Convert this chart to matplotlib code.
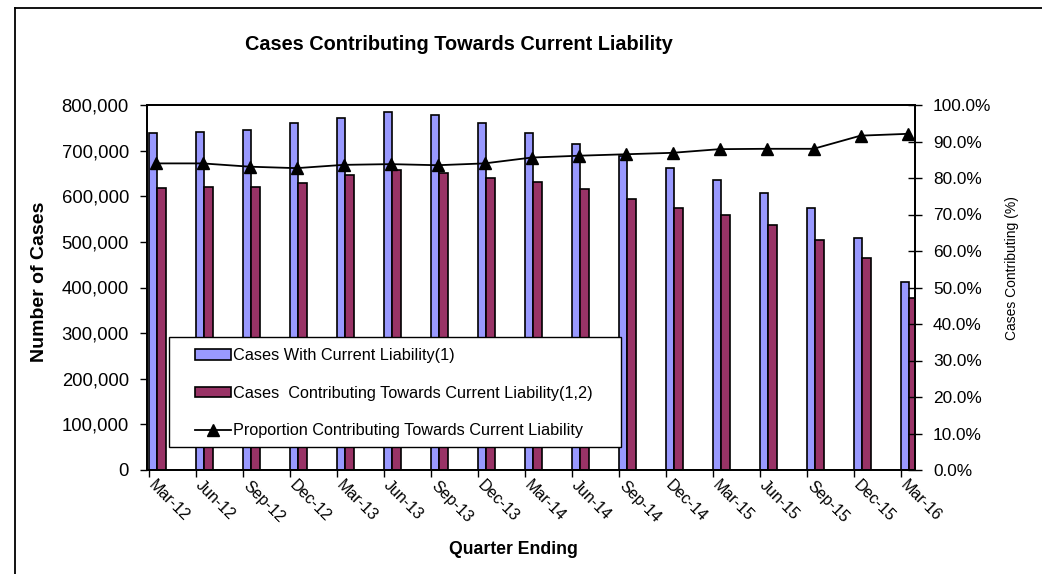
import matplotlib
matplotlib.use("Agg")
import matplotlib.pyplot as plt
from matplotlib.lines import Line2D
from matplotlib.patches import Patch, Rectangle
import matplotlib.transforms as mtransforms
import numpy as np

plt.rcParams['font.family'] = ['Liberation Sans', 'DejaVu Sans']

quarters = ["Mar-12", "Jun-12", "Sep-12", "Dec-12", "Mar-13", "Jun-13", "Sep-13", "Dec-13",
            "Mar-14", "Jun-14", "Sep-14", "Dec-14", "Mar-15", "Jun-15", "Sep-15", "Dec-15", "Mar-16"]
cases_with_liability = [738000, 740000, 746000, 760000, 772000, 784000, 778000, 760000,
                        738000, 714000, 689000, 661000, 635000, 608000, 575000, 508000, 411000]
cases_contributing = [618000, 621000, 621000, 629000, 647000, 657000, 651000, 639000,
                      631000, 615000, 594000, 575000, 558000, 536000, 505000, 465000, 378000]
proportion = [84.0, 84.0, 83.1, 82.7, 83.6, 83.8, 83.5, 84.0,
              85.6, 86.1, 86.5, 86.9, 87.9, 88.0, 88.0, 91.6, 92.1]

W, H = 1042, 574
fig = plt.figure(figsize=(W / 100, H / 100), dpi=100)
left, right, top, bottom = 147, 915, 105, 470
ax = fig.add_axes([left / W, 1 - bottom / H, (right - left) / W, (bottom - top) / H])

x = np.arange(len(quarters))
bw = 0.185
ax.bar(x, cases_with_liability, width=bw, align='edge', color='#9999FF',
       edgecolor='black', linewidth=1.2, zorder=2)
ax.bar(x + bw, cases_contributing, width=bw, align='edge', color='#993366',
       edgecolor='black', linewidth=1.2, zorder=2)

px_per_unit = 47.0
ax.set_xlim(-(148.5 - left) / px_per_unit, (right - 148.5) / px_per_unit)
ax.set_ylim(0, 800000)
ax.set_yticks(np.arange(0, 800001, 100000))
ax.set_yticklabels([f"{v:,}" for v in range(0, 800001, 100000)], fontsize=13.3)
ax.set_xticks(x)
ax.set_xticklabels([])
trans = mtransforms.blended_transform_factory(ax.transData, ax.transAxes)
offset = mtransforms.ScaledTranslation(8 / 100, -8 / 100, fig.dpi_scale_trans)
for xi, q in zip(x, quarters):
    ax.text(xi, 0, q, transform=trans + offset, rotation=-45, ha='left', va='top',
            rotation_mode='anchor', fontsize=11.5, clip_on=False)
ax.tick_params(axis='x', direction='out', length=5, width=1, pad=6)
ax.tick_params(axis='y', direction='out', length=5, width=1, pad=8)
for s in ax.spines.values():
    s.set_linewidth(1.3)

ax2 = ax.twinx()
ax2.plot(x + 0.15, proportion, color='black', linewidth=1.3, marker='^',
         markersize=9, zorder=3)
ax2.set_ylim(0, 100)
ax2.set_yticks(np.arange(0, 101, 10))
ax2.set_yticklabels([f"{v:.1f}%" for v in range(0, 101, 10)], fontsize=12.4)
ax2.tick_params(axis='y', direction='inout', length=10, width=1, pad=8)
for s in ax2.spines.values():
    s.set_linewidth(1.3)

fig.text(459 / W, 1 - 44 / H, "Cases Contributing Towards Current Liability",
         fontsize=14.3, fontweight='bold', ha='center', va='center')
fig.text(40 / W, 1 - 282 / H, "Number of Cases", fontsize=14, fontweight='bold',
         rotation=90, ha='center', va='center')
fig.text(513 / W, 1 - 550 / H, "Quarter Ending", fontsize=12.7, fontweight='bold',
         ha='center', va='center')
fig.text(1012 / W, 1 - 268 / H, "Cases Contributing (%)", fontsize=10,
         rotation=90, ha='center', va='center')

# legend frame
fig.add_artist(Rectangle((169 / W, 1 - 447 / H), (621 - 169) / W, (447 - 337) / H,
                         transform=fig.transFigure, facecolor='white', edgecolor='black',
                         linewidth=1.0, zorder=8))
handles = [Patch(facecolor='#9999FF', edgecolor='black', linewidth=1.2),
           Patch(facecolor='#993366', edgecolor='black', linewidth=1.2),
           Line2D([], [], color='black', linewidth=1.3, marker='^', markersize=8)]
labels = ['Cases With Current Liability(1)',
          'Cases  Contributing Towards Current Liability(1,2)',
          'Proportion Contributing Towards Current Liability']
leg = fig.legend(handles, labels, loc='upper left',
                 bbox_to_anchor=(195 / W, 1 - 348 / H),
                 bbox_transform=fig.transFigure, fontsize=11.7,
                 frameon=False, handlelength=2.2, handleheight=0.65, handletextpad=0.12,
                 labelspacing=1.40, borderpad=0, borderaxespad=0)
leg.set_zorder(9)

fig.add_artist(Line2D([15 / W, 15 / W], [0, 1 - 8 / H], transform=fig.transFigure,
                      color='black', linewidth=1.3))
fig.add_artist(Line2D([15 / W, 1], [1 - 8 / H, 1 - 8 / H], transform=fig.transFigure,
                      color='black', linewidth=1.3))

fig.savefig("out.png", dpi=100)
